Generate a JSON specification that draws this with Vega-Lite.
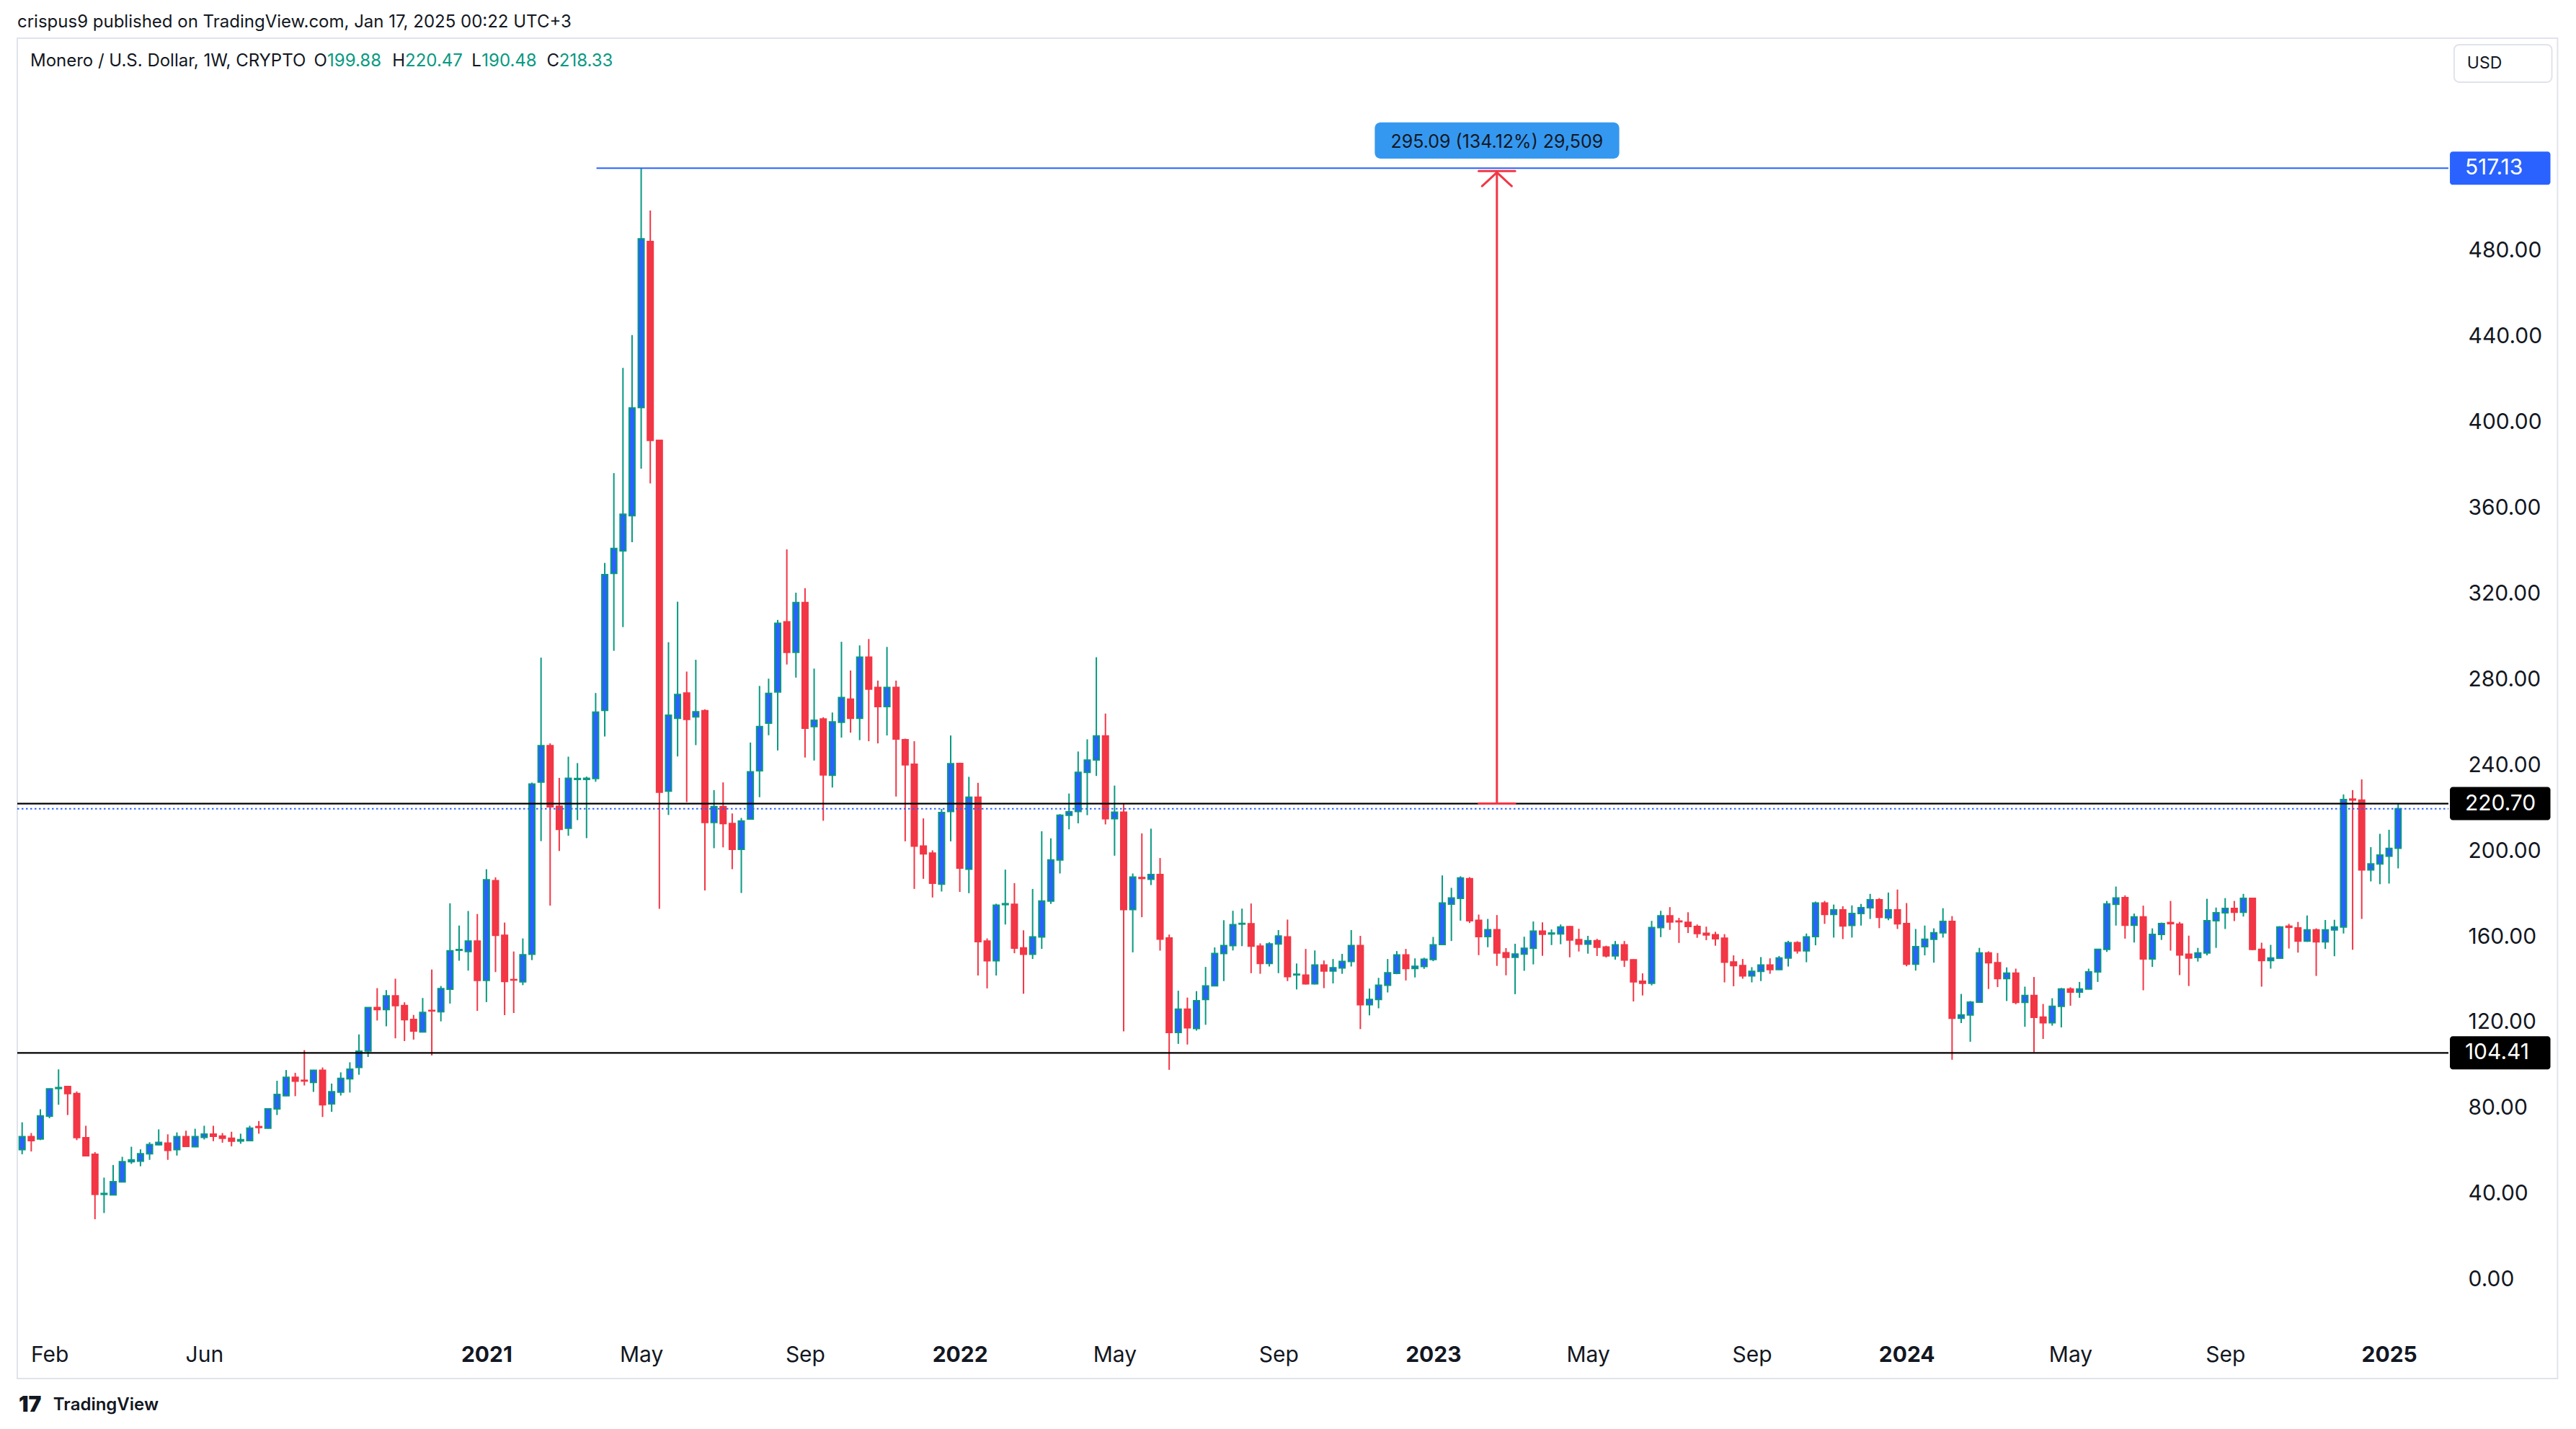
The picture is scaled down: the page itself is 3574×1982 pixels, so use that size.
{
  "$schema": "https://vega.github.io/schema/vega-lite/v6.json",
  "width": 3383,
  "height": 1785,
  "autosize": {"type": "none"},
  "padding": {"left": 19, "top": 53, "right": 172, "bottom": 144},
  "background": "#ffffff",
  "config": {"view": {"stroke": null}, "font": "Inter"},
  "resolve": {"axis": {"x": "independent", "y": "independent"}},
  "data": {"values": [{}]},
  "datasets": {
    "candles": [
      {"d":"2020-01-13","o":59.3,"h":72.0,"l":57.1,"c":65.3},
      {"d":"2020-01-20","o":65.3,"h":67.0,"l":58.4,"c":63.5},
      {"d":"2020-01-27","o":64.2,"h":78.1,"l":63.7,"c":75.0},
      {"d":"2020-02-03","o":74.9,"h":87.8,"l":73.9,"c":87.6},
      {"d":"2020-02-10","o":87.8,"h":96.7,"l":80.2,"c":88.2},
      {"d":"2020-02-17","o":88.7,"h":89.0,"l":75.4,"c":85.4},
      {"d":"2020-02-24","o":85.4,"h":86.4,"l":63.7,"c":64.9},
      {"d":"2020-03-02","o":64.8,"h":70.4,"l":56.2,"c":56.4},
      {"d":"2020-03-09","o":57.1,"h":58.1,"l":26.8,"c":38.4},
      {"d":"2020-03-16","o":38.4,"h":46.2,"l":29.7,"c":38.8},
      {"d":"2020-03-23","o":38.2,"h":52.1,"l":38.0,"c":44.3},
      {"d":"2020-03-30","o":44.2,"h":55.9,"l":44.0,"c":53.6},
      {"d":"2020-04-06","o":53.6,"h":60.6,"l":52.6,"c":54.5},
      {"d":"2020-04-13","o":53.9,"h":59.4,"l":51.5,"c":57.3},
      {"d":"2020-04-20","o":57.3,"h":62.7,"l":54.5,"c":61.6},
      {"d":"2020-04-27","o":61.5,"h":68.7,"l":61.3,"c":62.6},
      {"d":"2020-05-04","o":62.3,"h":66.4,"l":54.5,"c":58.9},
      {"d":"2020-05-11","o":59.3,"h":67.3,"l":56.5,"c":65.3},
      {"d":"2020-05-18","o":65.3,"h":68.1,"l":60.6,"c":60.8},
      {"d":"2020-05-25","o":60.6,"h":69.0,"l":60.4,"c":65.3},
      {"d":"2020-06-01","o":65.0,"h":70.4,"l":64.0,"c":66.5},
      {"d":"2020-06-08","o":66.5,"h":70.4,"l":63.2,"c":65.5},
      {"d":"2020-06-15","o":65.6,"h":67.0,"l":62.5,"c":64.6},
      {"d":"2020-06-22","o":64.6,"h":67.6,"l":60.8,"c":63.2},
      {"d":"2020-06-29","o":63.3,"h":66.7,"l":62.0,"c":63.9},
      {"d":"2020-07-06","o":63.5,"h":70.4,"l":63.2,"c":69.3},
      {"d":"2020-07-13","o":70.0,"h":72.6,"l":66.7,"c":69.6},
      {"d":"2020-07-20","o":69.3,"h":78.6,"l":69.1,"c":78.3},
      {"d":"2020-07-27","o":78.3,"h":91.4,"l":75.4,"c":85.0},
      {"d":"2020-08-03","o":84.4,"h":96.4,"l":84.2,"c":93.0},
      {"d":"2020-08-10","o":93.0,"h":95.1,"l":84.2,"c":91.2},
      {"d":"2020-08-17","o":91.6,"h":105.7,"l":89.2,"c":91.3},
      {"d":"2020-08-24","o":90.6,"h":96.5,"l":86.2,"c":96.3},
      {"d":"2020-08-31","o":96.3,"h":97.6,"l":74.5,"c":80.2},
      {"d":"2020-09-07","o":80.6,"h":90.1,"l":76.9,"c":86.3},
      {"d":"2020-09-14","o":86.1,"h":95.3,"l":84.5,"c":92.5},
      {"d":"2020-09-21","o":92.3,"h":100.0,"l":85.9,"c":96.8},
      {"d":"2020-09-28","o":97.6,"h":113.0,"l":94.2,"c":105.2},
      {"d":"2020-10-05","o":105.3,"h":125.7,"l":102.5,"c":125.5},
      {"d":"2020-10-12","o":125.5,"h":134.6,"l":119.5,"c":124.6},
      {"d":"2020-10-19","o":124.6,"h":133.7,"l":116.8,"c":131.0},
      {"d":"2020-10-26","o":131.0,"h":139.0,"l":111.2,"c":126.5},
      {"d":"2020-11-02","o":126.5,"h":128.0,"l":109.9,"c":119.9},
      {"d":"2020-11-09","o":120.0,"h":122.1,"l":110.6,"c":114.6},
      {"d":"2020-11-16","o":114.2,"h":130.0,"l":113.9,"c":123.3},
      {"d":"2020-11-23","o":124.2,"h":143.3,"l":103.2,"c":124.0},
      {"d":"2020-11-30","o":123.6,"h":135.6,"l":119.1,"c":134.4},
      {"d":"2020-12-07","o":134.1,"h":174.2,"l":127.4,"c":152.0},
      {"d":"2020-12-14","o":152.3,"h":163.8,"l":147.4,"c":152.6},
      {"d":"2020-12-21","o":151.7,"h":170.6,"l":142.8,"c":156.6},
      {"d":"2020-12-28","o":156.6,"h":169.2,"l":124.0,"c":138.2},
      {"d":"2021-01-04","o":138.2,"h":190.1,"l":128.1,"c":185.2},
      {"d":"2021-01-11","o":184.7,"h":186.3,"l":142.1,"c":159.3},
      {"d":"2021-01-18","o":159.3,"h":165.2,"l":122.0,"c":137.7},
      {"d":"2021-01-25","o":138.6,"h":151.7,"l":123.0,"c":138.4},
      {"d":"2021-02-01","o":137.6,"h":157.8,"l":136.0,"c":150.2},
      {"d":"2021-02-08","o":150.4,"h":230.5,"l":147.7,"c":229.8},
      {"d":"2021-02-15","o":230.7,"h":288.8,"l":203.2,"c":247.7},
      {"d":"2021-02-22","o":247.7,"h":248.8,"l":173.1,"c":219.2},
      {"d":"2021-03-01","o":219.5,"h":232.7,"l":198.6,"c":208.7},
      {"d":"2021-03-08","o":209.2,"h":242.6,"l":205.7,"c":232.5},
      {"d":"2021-03-15","o":232.0,"h":239.6,"l":213.0,"c":232.4},
      {"d":"2021-03-22","o":232.0,"h":233.3,"l":204.6,"c":232.5},
      {"d":"2021-03-29","o":232.4,"h":272.3,"l":230.9,"c":263.4},
      {"d":"2021-04-05","o":264.2,"h":333.0,"l":252.0,"c":327.5},
      {"d":"2021-04-12","o":328.1,"h":374.9,"l":292.0,"c":339.7},
      {"d":"2021-04-19","o":338.6,"h":424.0,"l":303.1,"c":355.7},
      {"d":"2021-04-26","o":355.0,"h":439.3,"l":342.7,"c":405.3},
      {"d":"2021-05-03","o":405.5,"h":517.13,"l":377.0,"c":484.2},
      {"d":"2021-05-10","o":482.9,"h":497.4,"l":370.1,"c":390.2},
      {"d":"2021-05-17","o":390.2,"h":390.2,"l":171.6,"c":226.0},
      {"d":"2021-05-24","o":226.5,"h":296.0,"l":215.4,"c":261.9},
      {"d":"2021-05-31","o":260.5,"h":314.9,"l":242.7,"c":271.6},
      {"d":"2021-06-07","o":272.3,"h":282.3,"l":221.4,"c":260.0},
      {"d":"2021-06-14","o":261.2,"h":287.8,"l":248.0,"c":263.5},
      {"d":"2021-06-21","o":264.0,"h":264.7,"l":180.2,"c":211.9},
      {"d":"2021-06-28","o":211.9,"h":227.0,"l":199.9,"c":219.3},
      {"d":"2021-07-05","o":219.3,"h":230.6,"l":200.3,"c":211.4},
      {"d":"2021-07-12","o":211.4,"h":216.1,"l":190.1,"c":199.4},
      {"d":"2021-07-19","o":199.4,"h":214.0,"l":179.0,"c":212.6},
      {"d":"2021-07-26","o":213.5,"h":249.2,"l":213.5,"c":235.5},
      {"d":"2021-08-02","o":236.0,"h":275.6,"l":223.7,"c":256.6},
      {"d":"2021-08-09","o":258.2,"h":279.0,"l":252.6,"c":272.1},
      {"d":"2021-08-16","o":272.8,"h":306.4,"l":245.5,"c":304.8},
      {"d":"2021-08-23","o":305.5,"h":339.3,"l":285.6,"c":291.3},
      {"d":"2021-08-30","o":291.3,"h":319.1,"l":279.5,"c":314.5},
      {"d":"2021-09-06","o":314.5,"h":321.2,"l":242.2,"c":255.9},
      {"d":"2021-09-13","o":256.6,"h":283.7,"l":240.8,"c":259.6},
      {"d":"2021-09-20","o":260.2,"h":261.0,"l":212.7,"c":234.1},
      {"d":"2021-09-27","o":233.9,"h":263.2,"l":228.2,"c":258.8},
      {"d":"2021-10-04","o":258.7,"h":296.2,"l":251.5,"c":270.2},
      {"d":"2021-10-11","o":269.4,"h":282.8,"l":253.8,"c":260.5},
      {"d":"2021-10-18","o":260.5,"h":294.5,"l":250.3,"c":289.0},
      {"d":"2021-10-25","o":289.0,"h":297.5,"l":249.8,"c":274.1},
      {"d":"2021-11-01","o":274.9,"h":278.1,"l":248.8,"c":266.0},
      {"d":"2021-11-08","o":266.0,"h":293.8,"l":252.5,"c":274.9},
      {"d":"2021-11-15","o":274.9,"h":278.1,"l":224.0,"c":250.8},
      {"d":"2021-11-22","o":250.5,"h":251.0,"l":203.1,"c":238.8},
      {"d":"2021-11-29","o":239.1,"h":249.8,"l":180.9,"c":200.9},
      {"d":"2021-12-06","o":200.9,"h":213.8,"l":185.6,"c":197.3},
      {"d":"2021-12-13","o":197.6,"h":198.9,"l":176.9,"c":183.6},
      {"d":"2021-12-20","o":183.1,"h":218.2,"l":179.7,"c":216.5},
      {"d":"2021-12-27","o":217.0,"h":252.5,"l":203.1,"c":239.3},
      {"d":"2022-01-03","o":239.4,"h":239.8,"l":179.5,"c":190.6},
      {"d":"2022-01-10","o":190.1,"h":233.2,"l":178.9,"c":223.7},
      {"d":"2022-01-17","o":223.7,"h":230.4,"l":140.5,"c":156.3},
      {"d":"2022-01-24","o":156.6,"h":157.8,"l":134.5,"c":147.4},
      {"d":"2022-01-31","o":147.4,"h":174.0,"l":140.5,"c":173.3},
      {"d":"2022-02-07","o":173.6,"h":189.9,"l":164.3,"c":174.0},
      {"d":"2022-02-14","o":173.7,"h":183.6,"l":150.9,"c":153.3},
      {"d":"2022-02-21","o":153.4,"h":161.6,"l":132.0,"c":150.4},
      {"d":"2022-02-28","o":150.4,"h":180.9,"l":148.2,"c":158.5},
      {"d":"2022-03-07","o":158.5,"h":207.8,"l":152.9,"c":175.2},
      {"d":"2022-03-14","o":175.2,"h":204.5,"l":173.9,"c":194.4},
      {"d":"2022-03-21","o":194.4,"h":215.8,"l":188.1,"c":215.3},
      {"d":"2022-03-28","o":215.3,"h":225.4,"l":208.7,"c":216.9},
      {"d":"2022-04-04","o":217.0,"h":245.0,"l":211.5,"c":235.3},
      {"d":"2022-04-11","o":235.3,"h":250.7,"l":215.3,"c":241.0},
      {"d":"2022-04-18","o":241.1,"h":289.0,"l":233.6,"c":252.3},
      {"d":"2022-04-25","o":252.3,"h":262.7,"l":211.0,"c":213.7},
      {"d":"2022-05-02","o":213.7,"h":229.1,"l":196.4,"c":216.7},
      {"d":"2022-05-09","o":216.7,"h":220.7,"l":114.4,"c":171.3},
      {"d":"2022-05-16","o":171.3,"h":188.1,"l":151.3,"c":186.4},
      {"d":"2022-05-23","o":186.2,"h":206.8,"l":167.7,"c":185.8},
      {"d":"2022-05-30","o":185.4,"h":209.0,"l":182.7,"c":187.6},
      {"d":"2022-06-06","o":187.6,"h":195.3,"l":152.1,"c":157.5},
      {"d":"2022-06-13","o":158.0,"h":159.6,"l":96.5,"c":113.9},
      {"d":"2022-06-20","o":113.9,"h":133.4,"l":108.6,"c":124.8},
      {"d":"2022-06-27","o":124.8,"h":130.2,"l":108.3,"c":116.1},
      {"d":"2022-07-04","o":115.8,"h":133.2,"l":114.8,"c":128.7},
      {"d":"2022-07-11","o":129.3,"h":144.5,"l":117.5,"c":135.6},
      {"d":"2022-07-18","o":135.7,"h":153.6,"l":135.5,"c":150.8},
      {"d":"2022-07-25","o":150.8,"h":166.3,"l":137.9,"c":154.5},
      {"d":"2022-08-01","o":154.5,"h":170.7,"l":152.2,"c":164.2},
      {"d":"2022-08-08","o":164.5,"h":171.7,"l":154.2,"c":164.8},
      {"d":"2022-08-15","o":164.6,"h":174.1,"l":141.6,"c":154.2},
      {"d":"2022-08-22","o":154.2,"h":155.5,"l":141.3,"c":146.1},
      {"d":"2022-08-29","o":146.1,"h":156.0,"l":144.7,"c":155.2},
      {"d":"2022-09-05","o":155.2,"h":161.7,"l":141.6,"c":158.9},
      {"d":"2022-09-12","o":158.5,"h":166.6,"l":137.9,"c":140.0},
      {"d":"2022-09-19","o":140.8,"h":146.1,"l":134.0,"c":141.1},
      {"d":"2022-09-26","o":140.7,"h":152.9,"l":136.3,"c":136.6},
      {"d":"2022-10-03","o":136.6,"h":152.2,"l":136.3,"c":145.4},
      {"d":"2022-10-10","o":145.4,"h":147.5,"l":134.6,"c":142.6},
      {"d":"2022-10-17","o":142.6,"h":148.2,"l":136.8,"c":144.1},
      {"d":"2022-10-24","o":144.0,"h":150.6,"l":141.3,"c":147.1},
      {"d":"2022-10-31","o":147.1,"h":161.7,"l":144.7,"c":154.5},
      {"d":"2022-11-07","o":154.5,"h":159.0,"l":115.5,"c":126.9},
      {"d":"2022-11-14","o":126.9,"h":134.4,"l":121.9,"c":129.3},
      {"d":"2022-11-21","o":129.3,"h":139.4,"l":125.2,"c":136.0},
      {"d":"2022-11-28","o":136.0,"h":148.2,"l":132.6,"c":141.8},
      {"d":"2022-12-05","o":141.5,"h":151.9,"l":141.1,"c":150.1},
      {"d":"2022-12-12","o":150.1,"h":152.9,"l":138.2,"c":143.8},
      {"d":"2022-12-19","o":143.8,"h":148.5,"l":139.6,"c":144.8},
      {"d":"2022-12-26","o":144.7,"h":148.8,"l":143.6,"c":148.1},
      {"d":"2023-01-02","o":148.0,"h":158.5,"l":147.2,"c":154.8},
      {"d":"2023-01-09","o":155.0,"h":187.2,"l":154.8,"c":174.3},
      {"d":"2023-01-16","o":173.8,"h":181.4,"l":156.6,"c":176.7},
      {"d":"2023-01-23","o":176.5,"h":186.8,"l":166.1,"c":186.0},
      {"d":"2023-01-30","o":185.7,"h":186.4,"l":165.0,"c":166.1},
      {"d":"2023-02-06","o":166.2,"h":168.9,"l":150.0,"c":158.7},
      {"d":"2023-02-13","o":158.7,"h":166.9,"l":153.7,"c":161.9},
      {"d":"2023-02-20","o":161.9,"h":168.7,"l":145.0,"c":151.0},
      {"d":"2023-02-27","o":151.1,"h":153.3,"l":140.6,"c":149.0},
      {"d":"2023-03-06","o":149.0,"h":155.3,"l":131.8,"c":150.5},
      {"d":"2023-03-13","o":150.5,"h":158.6,"l":142.7,"c":153.2},
      {"d":"2023-03-20","o":153.2,"h":165.7,"l":145.7,"c":161.2},
      {"d":"2023-03-27","o":161.2,"h":165.3,"l":149.7,"c":159.8},
      {"d":"2023-04-03","o":159.9,"h":162.0,"l":154.7,"c":160.3},
      {"d":"2023-04-10","o":159.9,"h":164.3,"l":155.1,"c":163.1},
      {"d":"2023-04-17","o":163.3,"h":163.6,"l":149.0,"c":157.1},
      {"d":"2023-04-24","o":157.2,"h":162.3,"l":151.7,"c":155.1},
      {"d":"2023-05-01","o":155.1,"h":159.0,"l":150.7,"c":156.7},
      {"d":"2023-05-08","o":156.7,"h":157.6,"l":149.6,"c":153.7},
      {"d":"2023-05-15","o":153.8,"h":154.4,"l":148.9,"c":149.7},
      {"d":"2023-05-22","o":149.7,"h":156.6,"l":147.9,"c":154.8},
      {"d":"2023-05-29","o":154.8,"h":156.6,"l":144.5,"c":147.7},
      {"d":"2023-06-05","o":147.8,"h":148.1,"l":128.4,"c":137.6},
      {"d":"2023-06-12","o":137.8,"h":141.5,"l":131.2,"c":136.9},
      {"d":"2023-06-19","o":136.9,"h":166.0,"l":135.9,"c":162.9},
      {"d":"2023-06-26","o":162.9,"h":170.7,"l":158.4,"c":168.3},
      {"d":"2023-07-03","o":168.3,"h":172.4,"l":161.8,"c":165.5},
      {"d":"2023-07-10","o":165.9,"h":167.4,"l":155.7,"c":165.6},
      {"d":"2023-07-17","o":165.3,"h":170.0,"l":160.3,"c":163.4},
      {"d":"2023-07-24","o":163.4,"h":164.3,"l":158.1,"c":160.1},
      {"d":"2023-07-31","o":160.2,"h":163.3,"l":157.0,"c":159.4},
      {"d":"2023-08-07","o":159.5,"h":160.9,"l":154.4,"c":157.7},
      {"d":"2023-08-14","o":157.9,"h":159.8,"l":137.3,"c":146.7},
      {"d":"2023-08-21","o":146.8,"h":149.9,"l":135.5,"c":145.1},
      {"d":"2023-08-28","o":145.1,"h":148.2,"l":139.0,"c":140.3},
      {"d":"2023-09-04","o":140.3,"h":144.4,"l":137.3,"c":142.4},
      {"d":"2023-09-11","o":142.4,"h":149.1,"l":137.9,"c":145.4},
      {"d":"2023-09-18","o":145.4,"h":148.5,"l":141.3,"c":143.3},
      {"d":"2023-09-25","o":143.3,"h":149.6,"l":143.0,"c":148.7},
      {"d":"2023-10-02","o":148.7,"h":156.7,"l":144.7,"c":155.8},
      {"d":"2023-10-09","o":155.8,"h":156.5,"l":150.7,"c":152.0},
      {"d":"2023-10-16","o":152.0,"h":160.1,"l":146.7,"c":158.5},
      {"d":"2023-10-23","o":158.7,"h":175.0,"l":154.6,"c":174.3},
      {"d":"2023-10-30","o":174.3,"h":175.3,"l":164.6,"c":169.0},
      {"d":"2023-11-06","o":169.0,"h":173.6,"l":158.2,"c":171.1},
      {"d":"2023-11-13","o":171.1,"h":172.8,"l":157.5,"c":163.6},
      {"d":"2023-11-20","o":163.9,"h":173.2,"l":158.2,"c":169.4},
      {"d":"2023-11-27","o":169.4,"h":173.9,"l":163.8,"c":172.1},
      {"d":"2023-12-04","o":172.1,"h":178.6,"l":166.9,"c":175.8},
      {"d":"2023-12-11","o":175.8,"h":176.6,"l":162.6,"c":167.7},
      {"d":"2023-12-18","o":167.4,"h":179.2,"l":166.3,"c":171.1},
      {"d":"2023-12-25","o":171.1,"h":180.6,"l":162.2,"c":164.6},
      {"d":"2024-01-01","o":164.7,"h":174.3,"l":144.8,"c":145.8},
      {"d":"2024-01-08","o":145.8,"h":162.2,"l":142.8,"c":154.0},
      {"d":"2024-01-15","o":154.0,"h":163.8,"l":149.9,"c":157.4},
      {"d":"2024-01-22","o":157.4,"h":162.5,"l":146.5,"c":160.4},
      {"d":"2024-01-29","o":160.4,"h":171.9,"l":158.2,"c":165.7},
      {"d":"2024-02-05","o":165.7,"h":168.2,"l":101.2,"c":120.6},
      {"d":"2024-02-12","o":120.6,"h":131.9,"l":118.3,"c":122.1},
      {"d":"2024-02-19","o":122.1,"h":128.6,"l":109.6,"c":128.1},
      {"d":"2024-02-26","o":128.1,"h":153.4,"l":127.7,"c":151.0},
      {"d":"2024-03-04","o":151.0,"h":151.8,"l":134.2,"c":146.5},
      {"d":"2024-03-11","o":146.5,"h":151.0,"l":135.1,"c":139.1},
      {"d":"2024-03-18","o":139.1,"h":144.3,"l":128.6,"c":141.6},
      {"d":"2024-03-25","o":141.6,"h":143.7,"l":127.1,"c":128.0},
      {"d":"2024-04-01","o":128.0,"h":135.3,"l":116.6,"c":131.2},
      {"d":"2024-04-08","o":131.2,"h":139.8,"l":104.7,"c":121.0},
      {"d":"2024-04-15","o":121.1,"h":127.2,"l":110.9,"c":118.5},
      {"d":"2024-04-22","o":118.5,"h":129.9,"l":117.1,"c":126.1},
      {"d":"2024-04-29","o":126.1,"h":134.7,"l":116.3,"c":134.2},
      {"d":"2024-05-06","o":134.2,"h":135.0,"l":126.4,"c":132.8},
      {"d":"2024-05-13","o":132.8,"h":137.5,"l":130.1,"c":134.2},
      {"d":"2024-05-20","o":134.2,"h":143.7,"l":134.0,"c":142.2},
      {"d":"2024-05-27","o":142.2,"h":152.9,"l":137.5,"c":152.7},
      {"d":"2024-06-03","o":152.7,"h":175.3,"l":151.5,"c":173.9},
      {"d":"2024-06-10","o":173.7,"h":182.0,"l":163.8,"c":176.7},
      {"d":"2024-06-17","o":176.8,"h":177.9,"l":157.7,"c":164.0},
      {"d":"2024-06-24","o":164.0,"h":169.4,"l":155.9,"c":167.8},
      {"d":"2024-07-01","o":167.8,"h":173.1,"l":133.6,"c":148.2},
      {"d":"2024-07-08","o":148.2,"h":162.5,"l":144.5,"c":159.7},
      {"d":"2024-07-15","o":159.7,"h":165.2,"l":157.1,"c":164.7},
      {"d":"2024-07-22","o":165.2,"h":175.3,"l":152.1,"c":164.7},
      {"d":"2024-07-29","o":164.5,"h":165.5,"l":140.7,"c":150.1},
      {"d":"2024-08-05","o":150.4,"h":159.1,"l":135.6,"c":148.7},
      {"d":"2024-08-12","o":148.9,"h":153.4,"l":147.0,"c":151.0},
      {"d":"2024-08-19","o":151.0,"h":176.3,"l":149.9,"c":166.1},
      {"d":"2024-08-26","o":166.1,"h":172.2,"l":153.4,"c":169.8},
      {"d":"2024-09-02","o":169.8,"h":176.6,"l":162.2,"c":171.8},
      {"d":"2024-09-09","o":171.8,"h":175.3,"l":165.9,"c":170.0},
      {"d":"2024-09-16","o":170.0,"h":178.6,"l":168.0,"c":176.5},
      {"d":"2024-09-23","o":176.5,"h":176.7,"l":152.3,"c":152.7},
      {"d":"2024-09-30","o":152.7,"h":155.8,"l":135.3,"c":147.5},
      {"d":"2024-10-07","o":147.5,"h":154.8,"l":143.7,"c":148.7},
      {"d":"2024-10-14","o":148.6,"h":163.5,"l":148.4,"c":163.1},
      {"d":"2024-10-21","o":163.5,"h":164.6,"l":153.1,"c":163.0},
      {"d":"2024-10-28","o":162.7,"h":165.5,"l":151.2,"c":156.6},
      {"d":"2024-11-04","o":156.6,"h":168.5,"l":156.2,"c":161.8},
      {"d":"2024-11-11","o":161.8,"h":162.5,"l":140.3,"c":156.2},
      {"d":"2024-11-18","o":156.2,"h":166.4,"l":152.9,"c":161.8},
      {"d":"2024-11-25","o":161.8,"h":166.5,"l":149.5,"c":163.1},
      {"d":"2024-12-02","o":163.1,"h":225.0,"l":160.1,"c":222.6},
      {"d":"2024-12-09","o":222.8,"h":227.0,"l":152.5,"c":222.4},
      {"d":"2024-12-16","o":222.3,"h":232.0,"l":166.9,"c":189.8},
      {"d":"2024-12-23","o":189.8,"h":200.4,"l":184.4,"c":192.6},
      {"d":"2024-12-30","o":192.6,"h":206.6,"l":183.1,"c":196.7},
      {"d":"2025-01-06","o":196.2,"h":208.5,"l":183.4,"c":199.8},
      {"d":"2025-01-13","o":199.88,"h":220.47,"l":190.48,"c":218.33}
    ],
    "legend": [
      {"t":"Monero / U.S. Dollar, 1W, CRYPTO","d":"2020-01-19T05:31:00Z","k":"lab"},
      {"t":"O","d":"2020-08-24T09:07:00Z","k":"lab"},
      {"t":"199.88","d":"2020-09-03T14:38:00Z","k":"val"},
      {"t":"H","d":"2020-10-23T14:38:00Z","k":"lab"},
      {"t":"220.47","d":"2020-11-02T12:00:00Z","k":"val"},
      {"t":"L","d":"2020-12-23T13:26:00Z","k":"lab"},
      {"t":"190.48","d":"2020-12-31T08:24:00Z","k":"val"},
      {"t":"C","d":"2021-02-19T08:38:00Z","k":"lab"},
      {"t":"218.33","d":"2021-02-28T22:05:00Z","k":"val"}
    ],
    "tags": [
      {"p":517.13},
      {"p":220.70},
      {"p":104.41}
    ]
  },
  "layer": [
    {
      "data": {"name": "candles"},
      "mark": {"type": "rule", "strokeWidth": 2},
      "encoding": {
        "x": {"field": "d", "type": "temporal",
          "scale": {"type": "utc", "domain": [{"year":2020,"month":1,"date":9,"hours":6,"minutes":43,"utc":true},{"year":2025,"month":2,"date":20,"hours":16,"utc":true}]},
          "axis": {
            "orient": "bottom",
            "values": [
              {"year":2020,"month":2,"date":3,"utc":true},
              {"year":2020,"month":6,"date":1,"utc":true},
              {"year":2021,"month":1,"date":4,"utc":true},
              {"year":2021,"month":5,"date":3,"utc":true},
              {"year":2021,"month":9,"date":6,"utc":true},
              {"year":2022,"month":1,"date":3,"utc":true},
              {"year":2022,"month":5,"date":2,"utc":true},
              {"year":2022,"month":9,"date":5,"utc":true},
              {"year":2023,"month":1,"date":2,"utc":true},
              {"year":2023,"month":5,"date":1,"utc":true},
              {"year":2023,"month":9,"date":4,"utc":true},
              {"year":2024,"month":1,"date":1,"utc":true},
              {"year":2024,"month":5,"date":6,"utc":true},
              {"year":2024,"month":9,"date":2,"utc":true},
              {"year":2025,"month":1,"date":6,"utc":true}
            ],
            "labelExpr": "utcmonth(datum.value) == 0 ? utcFormat(datum.value, '%Y') : utcFormat(datum.value, '%b')",
            "labelFont": "Inter", "labelFontSize": 30, "labelColor": "#131722",
            "labelFontWeight": {"condition": {"test": "utcmonth(datum.value) == 0", "value": "bold"}, "value": "normal"},
            "labelBaseline": "middle", "labelPadding": 41, "tickSize": 0, "ticks": false, "domain": false, "grid": false,
            "labelOverlap": false, "labelFlush": false, "title": null
          }
        },
        "y": {"field": "l", "type": "quantitative",
          "scale": {"domain": [-22.64, 577.8], "nice": false, "zero": false},
          "axis": {
            "orient": "right",
            "values": [0,40,80,120,160,200,240,280,320,360,400,440,480],
            "format": ".2f", "labelFont": "Inter", "labelFontSize": 30, "labelColor": "#131722",
            "labelPadding": 22, "labelOffset": 4, "tickSize": 0, "ticks": false, "domain": false, "grid": false,
            "labelAlign": "left", "labelBaseline": "middle", "labelOverlap": false, "labelFlush": false, "title": null
          }
        },
        "y2": {"field": "h"},
        "stroke": {"condition": {"test": "datum.c >= datum.o", "value": "#089981"}, "value": "#F23645"}
      }
    },
    {
      "mark": {"type": "rect", "fill": "transparent", "stroke": "#e0e3eb", "strokeWidth": 2},
      "encoding": {
        "x": {"datum": {"year":2020,"month":1,"date":9,"hours":6,"minutes":43,"utc":true}, "type": "temporal", "axis": null},
        "x2": {"datum": {"year":2025,"month":5,"date":15,"hours":14,"minutes":24,"utc":true}},
        "y": {"datum": 577.8, "type": "quantitative", "axis": null},
        "y2": {"datum": -47.53}
      }
    },
    {
      "data": {"name": "candles"},
      "mark": {"type": "bar", "width": 8, "strokeWidth": 2},
      "encoding": {
        "x": {"field": "d", "type": "temporal", "axis": null},
        "y": {"field": "o", "type": "quantitative", "axis": null},
        "y2": {"field": "c"},
        "fill": {"condition": {"test": "datum.c >= datum.o", "value": "#2962FF"}, "value": "#F23645"},
        "stroke": {"condition": {"test": "datum.c >= datum.o", "value": "#089981"}, "value": "#F23645"}
      }
    },
    {
      "mark": {"type": "rule", "color": "#000000", "strokeWidth": 2.2},
      "encoding": {
        "x": {"datum": {"year":2020,"month":1,"date":9,"hours":6,"minutes":43,"utc":true}, "type": "temporal", "axis": null},
        "x2": {"datum": {"year":2025,"month":2,"date":20,"hours":16,"utc":true}},
        "y": {"datum": 220.70, "type": "quantitative", "axis": null}
      }
    },
    {
      "mark": {"type": "rule", "color": "#000000", "strokeWidth": 2.2},
      "encoding": {
        "x": {"datum": {"year":2020,"month":1,"date":9,"hours":6,"minutes":43,"utc":true}, "type": "temporal", "axis": null},
        "x2": {"datum": {"year":2025,"month":2,"date":20,"hours":16,"utc":true}},
        "y": {"datum": 104.41, "type": "quantitative", "axis": null}
      }
    },
    {
      "mark": {"type": "rule", "color": "#2962FF", "strokeWidth": 2, "strokeDash": [2.5, 3.5]},
      "encoding": {
        "x": {"datum": {"year":2020,"month":1,"date":9,"hours":6,"minutes":43,"utc":true}, "type": "temporal", "axis": null},
        "x2": {"datum": {"year":2025,"month":2,"date":20,"hours":16,"utc":true}},
        "y": {"datum": 218.33, "type": "quantitative", "axis": null}
      }
    },
    {
      "mark": {"type": "rule", "color": "#2962FF", "strokeWidth": 2},
      "encoding": {
        "x": {"datum": {"year":2021,"month":3,"date":29,"hours":15,"minutes":36,"utc":true}, "type": "temporal", "axis": null},
        "x2": {"datum": {"year":2025,"month":2,"date":20,"hours":16,"utc":true}},
        "y": {"datum": 517.13, "type": "quantitative", "axis": null}
      }
    },
    {
      "mark": {"type": "rule", "color": "#F23645", "strokeWidth": 3},
      "encoding": {
        "x": {"datum": {"year":2023,"month":2,"date":20,"utc":true}, "type": "temporal", "axis": null},
        "y": {"datum": 220.70, "type": "quantitative", "axis": null},
        "y2": {"datum": 515.79}
      }
    },
    {
      "mark": {"type": "rule", "color": "#F23645", "strokeWidth": 3, "strokeCap": "round"},
      "encoding": {
        "x": {"datum": {"year":2023,"month":2,"date":6,"utc":true}, "type": "temporal", "axis": null},
        "x2": {"datum": {"year":2023,"month":3,"date":6,"utc":true}},
        "y": {"datum": 220.70, "type": "quantitative", "axis": null}
      }
    },
    {
      "mark": {"type": "rule", "color": "#F23645", "strokeWidth": 3, "strokeCap": "round"},
      "encoding": {
        "x": {"datum": {"year":2023,"month":2,"date":6,"utc":true}, "type": "temporal", "axis": null},
        "x2": {"datum": {"year":2023,"month":3,"date":6,"utc":true}},
        "y": {"datum": 515.79, "type": "quantitative", "axis": null}
      }
    },
    {
      "mark": {"type": "point", "shape": "M-1,0.93L0,0L1,0.93", "filled": false, "color": "#F23645", "strokeWidth": 3, "strokeCap": "round", "strokeJoin": "round", "size": 1681, "opacity": 1},
      "encoding": {
        "x": {"datum": {"year":2023,"month":2,"date":20,"utc":true}, "type": "temporal", "axis": null},
        "y": {"datum": 515.2, "type": "quantitative", "axis": null}
      }
    },
    {
      "mark": {"type": "rect", "fill": "#3598f0", "cornerRadius": 8},
      "encoding": {
        "x": {"datum": {"year":2022,"month":11,"date":18,"hours":2,"minutes":24,"utc":true}, "type": "temporal", "axis": null},
        "x2": {"datum": {"year":2023,"month":5,"date":25,"hours":2,"minutes":24,"utc":true}},
        "y": {"datum": 538.5, "type": "quantitative", "axis": null},
        "y2": {"datum": 521.6}
      }
    },
    {
      "mark": {"type": "text", "text": "295.09 (134.12%) 29,509", "font": "Inter", "fontSize": 25, "color": "#131722", "align": "center", "baseline": "middle"},
      "encoding": {
        "x": {"datum": {"year":2023,"month":2,"date":20,"utc":true}, "type": "temporal", "axis": null},
        "y": {"datum": 529.2, "type": "quantitative", "axis": null}
      }
    },
    {
      "mark": {"type": "rect", "fill": "#2962FF", "cornerRadius": 4},
      "encoding": {
        "x": {"datum": {"year":2025,"month":2,"date":21,"hours":19,"minutes":12,"utc":true}, "type": "temporal", "axis": null},
        "x2": {"datum": {"year":2025,"month":5,"date":10,"hours":2,"minutes":24,"utc":true}},
        "y": {"datum": 524.87, "type": "quantitative", "axis": null},
        "y2": {"datum": 509.39}
      }
    },
    {
      "mark": {"type": "rect", "fill": "#000000", "cornerRadius": 4},
      "encoding": {
        "x": {"datum": {"year":2025,"month":2,"date":21,"hours":19,"minutes":12,"utc":true}, "type": "temporal", "axis": null},
        "x2": {"datum": {"year":2025,"month":5,"date":10,"hours":2,"minutes":24,"utc":true}},
        "y": {"datum": 228.44, "type": "quantitative", "axis": null},
        "y2": {"datum": 212.96}
      }
    },
    {
      "mark": {"type": "rect", "fill": "#000000", "cornerRadius": 4},
      "encoding": {
        "x": {"datum": {"year":2025,"month":2,"date":21,"hours":19,"minutes":12,"utc":true}, "type": "temporal", "axis": null},
        "x2": {"datum": {"year":2025,"month":5,"date":10,"hours":2,"minutes":24,"utc":true}},
        "y": {"datum": 112.15, "type": "quantitative", "axis": null},
        "y2": {"datum": 96.67}
      }
    },
    {
      "data": {"name": "tags"},
      "mark": {"type": "text", "font": "Inter", "fontSize": 30, "color": "#ffffff", "align": "left", "baseline": "middle"},
      "encoding": {
        "x": {"datum": {"year":2025,"month":3,"date":5,"hours":8,"minutes":24,"utc":true}, "type": "temporal", "axis": null},
        "y": {"field": "p", "type": "quantitative", "axis": null},
        "text": {"field": "p", "type": "quantitative", "format": ".2f"}
      }
    },
    {
      "mark": {"type": "rect", "fill": "#ffffff", "stroke": "#e0e3eb", "strokeWidth": 2, "cornerRadius": 7},
      "encoding": {
        "x": {"datum": {"year":2025,"month":2,"date":25,"hours":1,"minutes":26,"utc":true}, "type": "temporal", "axis": null},
        "x2": {"datum": {"year":2025,"month":5,"date":11,"hours":4,"minutes":48,"utc":true}},
        "y": {"datum": 574.8, "type": "quantitative", "axis": null},
        "y2": {"datum": 557.3}
      }
    },
    {
      "mark": {"type": "text", "text": "USD", "font": "Inter", "fontSize": 23, "color": "#131722", "align": "left", "baseline": "middle"},
      "encoding": {
        "x": {"datum": {"year":2025,"month":3,"date":7,"utc":true}, "type": "temporal", "axis": null},
        "y": {"datum": 566.0, "type": "quantitative", "axis": null}
      }
    },
    {
      "data": {"name": "legend"},
      "mark": {"type": "text", "font": "Inter", "fontSize": 24, "align": "left", "baseline": "middle"},
      "encoding": {
        "x": {"field": "d", "type": "temporal", "axis": null},
        "y": {"datum": 567, "type": "quantitative", "axis": null},
        "text": {"field": "t"},
        "color": {"field": "k", "type": "nominal", "scale": {"domain": ["lab", "val"], "range": ["#131722", "#089981"]}, "legend": null}
      }
    },
    {
      "mark": {"type": "text", "text": "crispus9 published on TradingView.com, Jan 17, 2025 00:22 UTC+3", "font": "Inter", "fontSize": 24, "fontWeight": "normal", "color": "#131722", "align": "left", "baseline": "alphabetic"},
      "encoding": {
        "x": {"datum": {"year":2020,"month":1,"date":9,"hours":6,"minutes":43,"utc":true}, "type": "temporal", "axis": null},
        "y": {"datum": 582.87, "type": "quantitative", "axis": null}
      }
    },
    {
      "mark": {"type": "text", "text": "17", "font": "Inter", "fontSize": 30, "fontWeight": 900, "color": "#131722", "align": "left", "baseline": "middle"},
      "encoding": {
        "x": {"datum": {"year":2020,"month":1,"date":10,"hours":9,"minutes":36,"utc":true}, "type": "temporal", "axis": null},
        "y": {"datum": -60.03, "type": "quantitative", "axis": null}
      }
    },
    {
      "mark": {"type": "text", "text": "TradingView", "font": "Inter", "fontSize": 24, "fontWeight": 600, "color": "#131722", "align": "left", "baseline": "middle"},
      "encoding": {
        "x": {"datum": {"year":2020,"month":2,"date":5,"hours":21,"minutes":36,"utc":true}, "type": "temporal", "axis": null},
        "y": {"datum": -60.03, "type": "quantitative", "axis": null}
      }
    }
  ]
}
